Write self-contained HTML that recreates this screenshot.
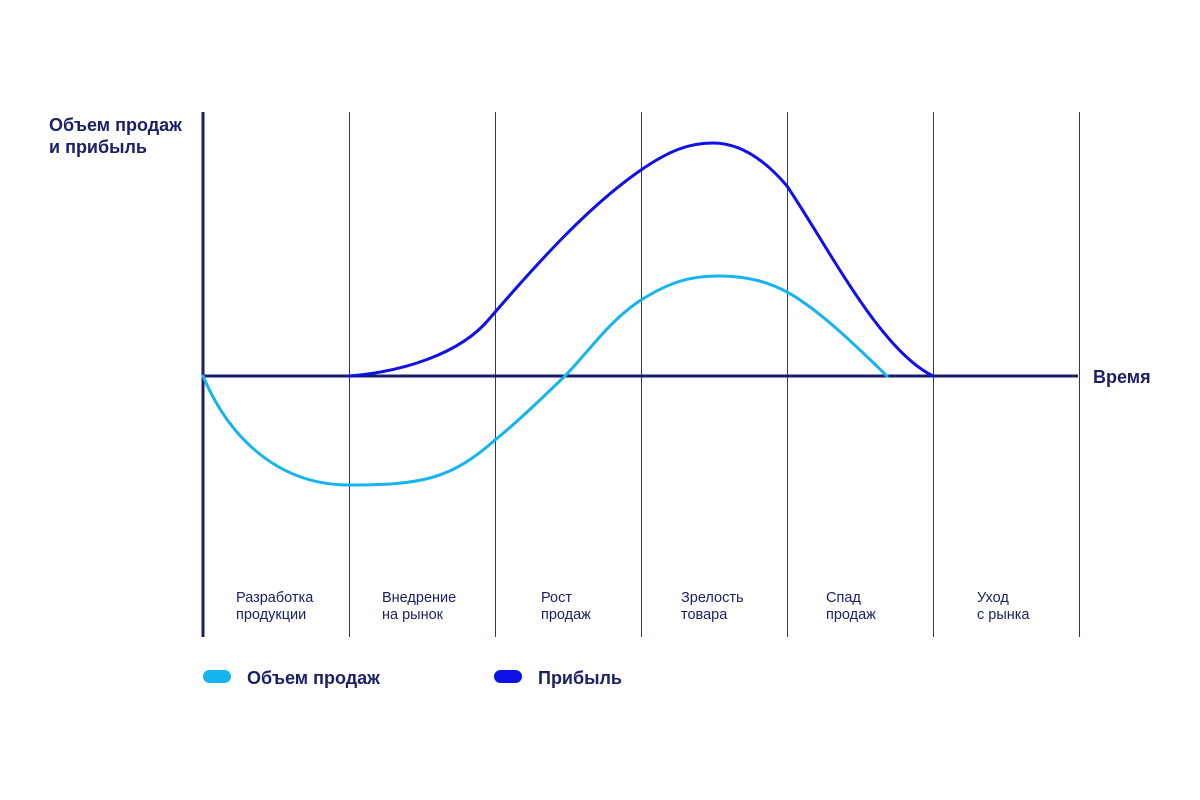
<!DOCTYPE html>
<html><head><meta charset="utf-8"><style>body{margin:0;background:#fff}svg{display:block}</style></head><body>
<svg width="1200" height="800" xmlns="http://www.w3.org/2000/svg" font-family="Liberation Sans, sans-serif">
<rect width="1200" height="800" fill="#fff"/>
<g stroke="#283593" stroke-width="1">
<line x1="349.5" y1="112" x2="349.5" y2="637"/><line x1="495.5" y1="112" x2="495.5" y2="637"/><line x1="641.5" y1="112" x2="641.5" y2="637"/><line x1="787.5" y1="112" x2="787.5" y2="637"/><line x1="933.5" y1="112" x2="933.5" y2="637"/><line x1="1079.5" y1="112" x2="1079.5" y2="637"/>
</g>
<line x1="203" y1="112" x2="203" y2="637" stroke="#1a1f66" stroke-width="3"/>
<line x1="203" y1="376" x2="1078" y2="376" stroke="#1a1f66" stroke-width="3"/>
<path d="M203,376 C230,440 280,485 349,485 C420,485 450,480 495,440 C520,420 545,395 565,376 C590,350 610,320 641,300 C670,282 690,276 718,276 C750,276 770,283 787,292 C820,310 860,350 887,376" fill="none" stroke="#14b4f0" stroke-width="3" stroke-linecap="round"/>
<path d="M349,376 C400,372 460,355 490,318 C540,260 590,205 641,170 C670,150 690,143 713,143 C740,143 765,160 787,186 C830,250 880,350 933,376" fill="none" stroke="#1010e8" stroke-width="3" stroke-linecap="round"/>
<g fill="#1a1f66" font-size="18" font-weight="bold">
<text x="49" y="131">Объем продаж</text><text x="49" y="153">и прибыль</text>
<text x="1093" y="383">Время</text>
<text x="247" y="684">Объем продаж</text><text x="538" y="684">Прибыль</text>
</g>
<g fill="#1a1f66" font-size="14.5">
<text x="236" y="602">Разработка</text><text x="236" y="619">продукции</text>
<text x="382" y="602">Внедрение</text><text x="382" y="619">на рынок</text>
<text x="541" y="602">Рост</text><text x="541" y="619">продаж</text>
<text x="681" y="602">Зрелость</text><text x="681" y="619">товара</text>
<text x="826" y="602">Спад</text><text x="826" y="619">продаж</text>
<text x="977" y="602">Уход</text><text x="977" y="619">с рынка</text>
</g>
<rect x="203" y="670" width="28" height="13" rx="6.5" fill="#14b4f0"/>
<rect x="494" y="670" width="28" height="13" rx="6.5" fill="#1010e8"/>
</svg>
</body></html>
